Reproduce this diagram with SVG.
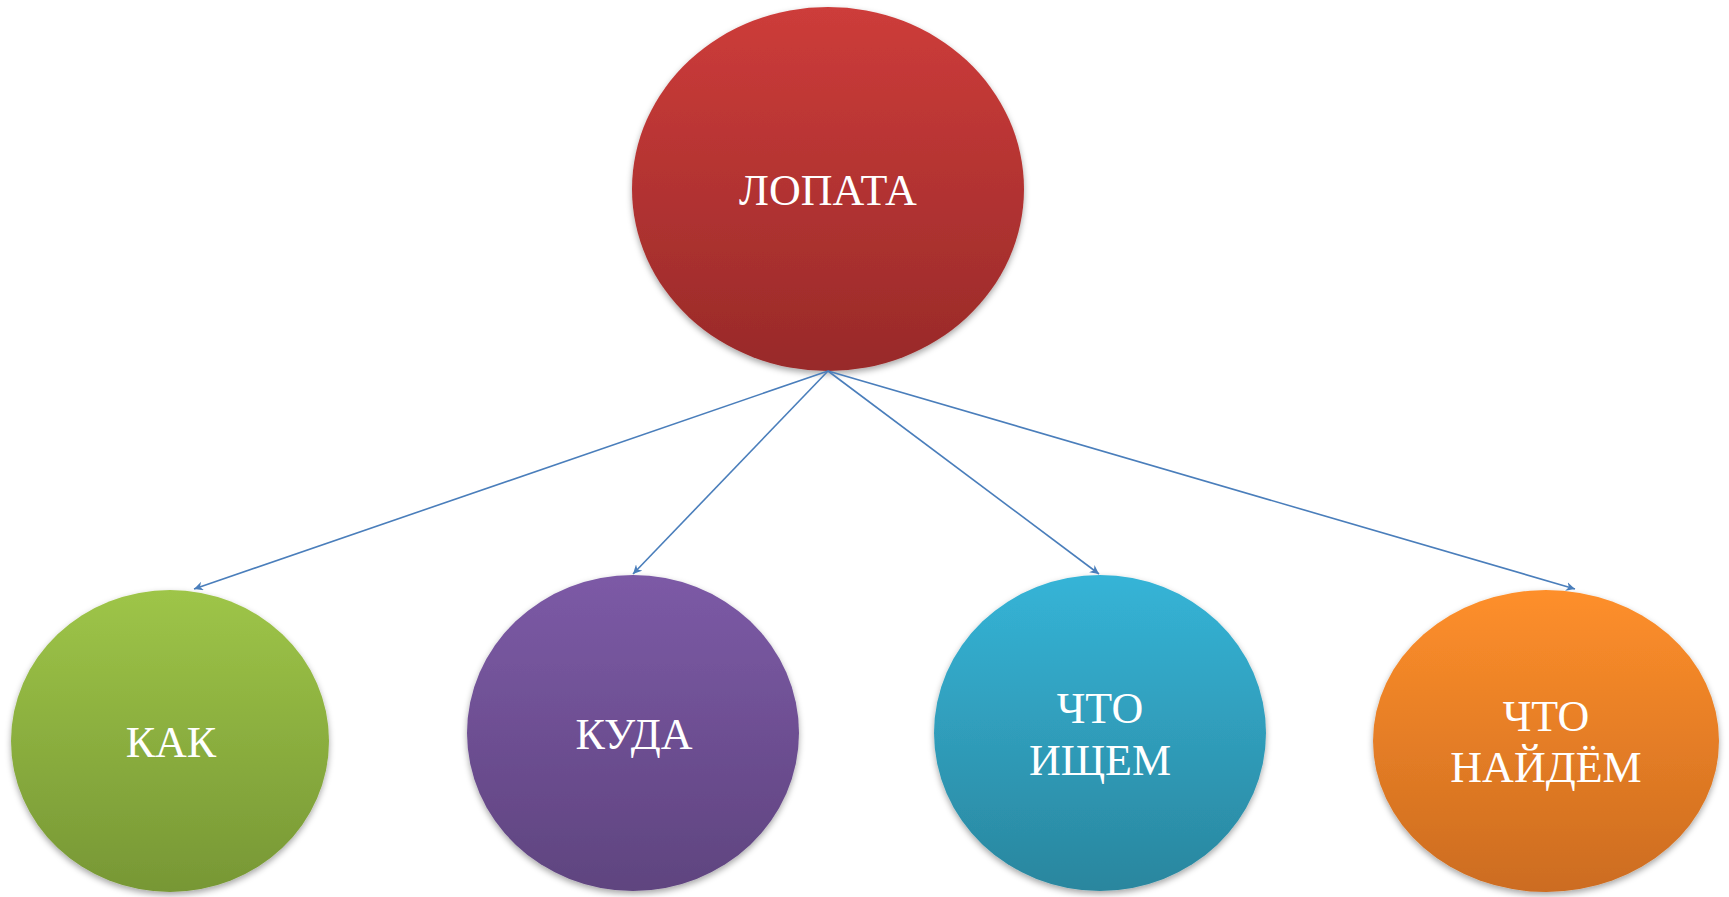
<svg xmlns="http://www.w3.org/2000/svg" width="1729" height="897" viewBox="0 0 1729 897">
<style>
.lbl{font-family:"Liberation Serif","Times New Roman",serif;font-size:44px;fill:#ffffff;text-anchor:middle}
.conn{stroke:#4a7ebb;stroke-width:1.6;fill:none;marker-end:url(#arr)}
</style>
<defs>
<linearGradient id="gRed" x1="0" y1="0" x2="0" y2="1"><stop offset="0" stop-color="#cd3c3a"/><stop offset="1" stop-color="#982a29"/></linearGradient>
<linearGradient id="gGreen" x1="0" y1="0" x2="0" y2="1"><stop offset="0" stop-color="#9ec548"/><stop offset="1" stop-color="#779735"/></linearGradient>
<linearGradient id="gPurple" x1="0" y1="0" x2="0" y2="1"><stop offset="0" stop-color="#7c5aa6"/><stop offset="1" stop-color="#5f447f"/></linearGradient>
<linearGradient id="gBlue" x1="0" y1="0" x2="0" y2="1"><stop offset="0" stop-color="#35b4d7"/><stop offset="1" stop-color="#2a869e"/></linearGradient>
<linearGradient id="gOrange" x1="0" y1="0" x2="0" y2="1"><stop offset="0" stop-color="#fe8f2b"/><stop offset="1" stop-color="#cc6c20"/></linearGradient>
<filter id="sh" x="-10%" y="-10%" width="120%" height="125%"><feDropShadow dx="0" dy="3" stdDeviation="3" flood-color="#000" flood-opacity="0.35"/></filter>
<marker id="arr" viewBox="0 0 10 10" refX="10" refY="5" markerWidth="9" markerHeight="9" orient="auto" markerUnits="userSpaceOnUse"><path d="M0,0 L10,5 L0,10 L3,5 Z" fill="#4a7ebb"/></marker>
</defs>
<g id="node-lopata"><ellipse cx="828" cy="189" rx="196" ry="182" fill="url(#gRed)" filter="url(#sh)"/><text class="lbl" x="828" y="205">ЛОПАТА</text></g>
<g id="node-kak"><ellipse cx="170" cy="741" rx="159" ry="151" fill="url(#gGreen)" filter="url(#sh)"/><text class="lbl" x="171" y="757">КАК</text></g>
<g id="node-kuda"><ellipse cx="633" cy="733" rx="166" ry="158" fill="url(#gPurple)" filter="url(#sh)"/><text class="lbl" x="634" y="749">КУДА</text></g>
<g id="node-ishchem"><ellipse cx="1100" cy="733" rx="166" ry="158" fill="url(#gBlue)" filter="url(#sh)"/><text class="lbl" x="1100" y="723">ЧТО</text><text class="lbl" x="1100" y="775">ИЩЕМ</text></g>
<g id="node-naydem"><ellipse cx="1546" cy="741" rx="173" ry="151" fill="url(#gOrange)" filter="url(#sh)"/><text class="lbl" x="1546" y="731">ЧТО</text><text class="lbl" x="1546" y="782">НАЙДЁМ</text></g>
<g id="connectors">
<line class="conn" x1="828" y1="371" x2="194" y2="589"/>
<line class="conn" x1="828" y1="371" x2="633" y2="574"/>
<line class="conn" x1="828" y1="371" x2="1099" y2="574"/>
<line class="conn" x1="828" y1="371" x2="1575" y2="589"/>
</g>
</svg>
